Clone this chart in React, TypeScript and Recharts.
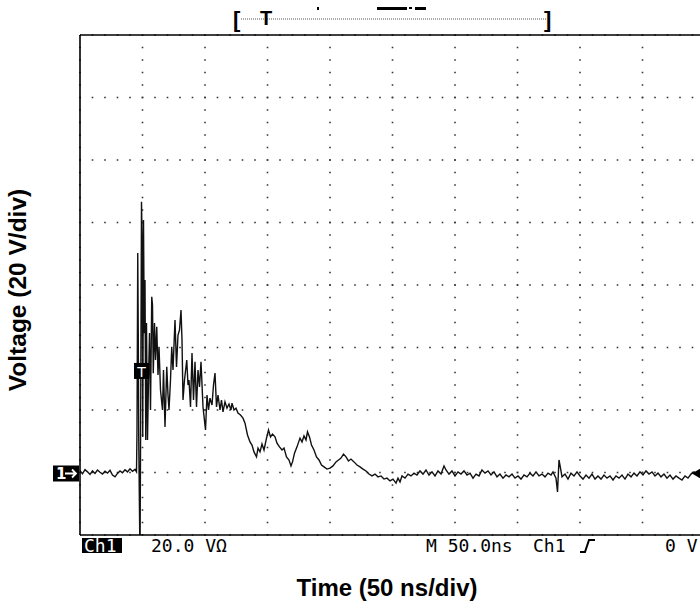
import React from 'react';
import { LineChart, Line, XAxis, YAxis, CartesianGrid, ReferenceDot } from 'recharts';

// Oscilloscope capture: Ch1, 20 V/div, 50 ns/div. Time in ns, voltage in V.
const preTrigger: [number, number][] = [
  [0, 0.6], [2, -0.4], [4, 0.9], [6, 0.2], [8, -0.6], [10, 0.5], [12, -0.3], [14, 0.8],
  [16, 0.1], [18, -0.5], [20, 0.4], [22, -0.2], [24, 0.7], [26, -0.8], [28, -1.4], [30, -0.3],
  [32, 0.5], [34, -0.1], [36, 0.9], [38, 0.2], [40, 1.2], [42, 0.4], [44, 1.0],
];

const burst: [number, number][] = [
  [45.2, 0.2], [45.6, 13.6], [46.2, 70.2], [46.6, 45.6], [47.0, 10.4], [48.0, -28], [48.6, 23.2],
  [49.2, 86.6], [49.8, 71.2], [50.2, 11.4], [50.8, 80.8], [51.4, 44.6], [52.0, 61.6], [52.6, 10.4],
  [53.2, 47.8], [54.0, 10.4], [54.8, 29.6], [55.6, 44.6], [56.4, 20.0], [57.4, 56.2], [58.0, 53.6],
  [58.6, 31.8], [59.6, 47.8], [60.4, 36.0], [61.4, 46.6], [62.4, 31.2], [63.2, 40.2], [64.4, 26.4],
  [66.0, 20.0], [66.8, 32.8], [68.0, 14.6], [69.4, 33.8], [70.4, 24.8], [71.2, 20.0], [72.4, 29.6],
  [73.4, 40.2], [74.4, 32.8], [76.0, 48.8], [77.2, 33.8], [78.4, 44.0], [79.6, 45.6], [80.8, 52.0],
  [81.6, 42.4], [82.4, 23.2], [83.6, 29.6], [85.4, 36.0], [86.4, 28.0], [87.2, 29.6], [88.4, 21.0],
  [89.6, 38.2], [90.8, 23.2], [92.0, 35.4], [93.2, 21.0], [94.4, 32.8], [95.6, 27.4], [96.8, 35.4],
  [98.4, 21.0], [100.4, 13.6], [101.6, 24.8], [102.8, 20.0], [104.0, 23.8], [105.6, 21.6],
  [106.8, 28.0], [108.0, 31.8], [109.2, 21.0], [110.4, 24.8], [112.0, 20.0], [113.2, 23.2],
  [114.4, 19.4], [116.0, 22.6], [117.6, 20.6], [119.2, 21.9], [120.8, 20.0], [121.6, 22.2],
  [123.2, 20.0], [124.8, 20.6], [126.4, 19.0], [128.4, 18.4], [130.4, 17.4], [132.0, 15.8],
];

const ringdown: [number, number][] = [
  [134.0, 12.0], [136.0, 9.8], [137.6, 8.8], [139.2, 6.6], [141.2, 5.0], [142.4, 7.8], [144.0, 6.6],
  [145.6, 9.1], [147.2, 7.2], [149.2, 11.0], [150.8, 13.6], [152.4, 11.4], [154.0, 12.3],
  [156.0, 11.4], [157.6, 9.4], [159.6, 8.2], [161.6, 7.2], [163.2, 7.8], [165.2, 5.0], [167.2, 4.0],
  [168.8, 2.1], [170.0, 3.4], [171.6, 6.2], [173.6, 8.2], [176.0, 11.0], [177.6, 9.8], [179.2, 11.7],
  [180.8, 10.4], [182.0, 13.0], [183.6, 11.4], [185.2, 8.8], [187.2, 7.2], [189.2, 5.0],
  [191.2, 4.0], [193.2, 2.4], [195.2, 1.8], [197.6, 1.1], [200.0, 1.4], [202.4, 2.1], [204.8, 3.4],
  [206.8, 4.0], [208.8, 4.6], [210.8, 5.9], [212.8, 5.0], [214.8, 3.7], [216.8, 4.3], [219.2, 3.4],
  [221.6, 2.4], [224.0, 1.8], [226.4, 1.1], [228.8, 0.5],
];

const tail: [number, number][] = [
  [231.2, -0.5], [233.6, -1.1], [236.0, -0.5], [238.4, -1.4], [240.8, -1.1], [243.2, -2.1],
  [245.6, -1.8], [248.0, -2.7], [250.4, -2.1], [252.8, -3.4], [254.4, -1.8], [256.0, -3.0],
  [257.6, -1.1], [260.0, -1.8], [262.4, -0.5], [264.8, -1.1], [267.2, -0.2], [269.6, -0.8],
  [272.0, 0.5], [274.4, -0.5], [276.8, 0.8], [279.2, -0.8], [281.6, 0.2], [284.0, -1.1],
  [286.4, 0.5], [288.8, -0.5], [291.2, 2.1], [292.8, 0.8], [295.2, -0.5], [297.6, 0.5],
  [300.0, -1.1], [302.4, 0.2], [304.8, -0.5], [307.2, 0.5], [309.6, -0.8], [312.0, -0.2],
  [314.4, -1.8], [316.8, -0.5], [319.2, -1.1], [321.6, 0.8], [324.0, -0.2], [326.4, 0.5],
  [328.8, -0.8], [331.2, 0.2], [333.6, -1.4], [336.0, -0.5], [338.4, -1.8], [340.8, -0.8],
  [343.2, -1.4], [345.6, -0.5], [348.0, -1.8], [350.4, -1.1], [352.8, -2.1], [355.2, -0.8],
  [357.6, -1.4], [360.0, -0.2], [362.4, -1.1], [364.8, 0.2], [367.2, -1.1], [369.6, -0.5],
  [372.0, -1.4], [374.4, -0.2], [376.8, -0.8], [378.4, 0.2], [380.8, -1.8], [382.0, -6.2],
  [383.2, 4.0], [384.4, 1.4], [385.6, -1.4], [388.0, -0.5], [390.4, -2.1], [392.8, -0.2],
  [395.2, -1.1], [397.6, 0.2], [400.0, -1.1], [402.4, -2.1], [404.8, -0.8], [407.2, -1.8],
  [409.6, -0.5], [412.0, -2.1], [414.4, -1.1], [416.8, -2.1], [419.2, -0.8], [421.6, -1.8],
  [424.0, -1.1], [426.4, -2.4], [428.8, -1.1], [431.2, -1.8], [433.6, -0.8], [436.0, -2.1],
  [438.4, -0.5], [440.8, -1.4], [443.2, -0.2], [445.6, -1.1], [448.0, 0.2], [450.4, -0.8],
  [452.8, 0.5], [455.2, -0.5], [457.6, 0.2], [460.0, -1.1], [462.4, -0.2], [464.8, -1.4],
  [467.2, -0.5], [469.6, -1.8], [472.0, -0.8], [474.4, -2.1], [476.8, -1.1], [479.2, -1.8],
  [481.6, -2.4], [484.0, -1.1], [486.4, -1.8], [488.8, -0.5], [491.2, 0.2], [493.6, -0.5],
  [496.0, -0.2], [500.0, -0.2],
];

const gridTimeTicks = [0, 50, 100, 150, 200, 250, 300, 350, 400, 450, 500];
const gridVoltTicks = [-20, 0, 20, 40, 60, 80, 100, 120, 140];
const minorTimeTicks = Array.from({ length: 51 }, (_, i) => i * 10);
const minorVoltTicks = Array.from({ length: 41 }, (_, i) => -20 + i * 4);

const timeDomain: [number, number] = [0, 500];
const voltDomain: [number, number] = [-20, 140];
const triggerLevel = { t: 49.2, v: 32.5 };

const table = [...preTrigger, ...burst, ...ringdown, ...tail].map(([t, v]) => ({ t, v }));

const borderLine = { stroke: '#000', strokeWidth: 1.6 };
const borderTick = { stroke: '#000', strokeWidth: 1.4 };

const GroundMarker = (props: any) => {
  const { cx, cy } = props;
  return (
    <g>
      <rect x={cx - 27} y={cy - 7} width={26} height={16} fill="#000" />
      <text x={cx - 24} y={cy + 6} fill="#fff" fontSize={15} fontWeight="bold" fontFamily="DejaVu Sans">1</text>
      <path d={`M${cx - 15} ${cy + 1} L${cx - 4} ${cy + 1} M${cx - 8} ${cy - 3} L${cx - 4} ${cy + 1} L${cx - 8} ${cy + 5}`} stroke="#fff" strokeWidth={1.8} fill="none" />
    </g>
  );
};

const TriggerMarker = (props: any) => {
  const { cx, cy } = props;
  return (
    <g>
      <rect x={cx - 7.5} y={cy - 8} width={15} height={16} fill="#000" />
      <text x={cx} y={cy + 6} fill="#fff" fontSize={14} textAnchor="middle" fontFamily="DejaVu Sans">T</text>
    </g>
  );
};

const RightMarker = (props: any) => {
  const { cx, cy } = props;
  return <polygon points={`${cx - 13},${cy + 1} ${cx - 1},${cy - 6} ${cx - 1},${cy + 8}`} fill="#000" />;
};

const mono = 'DejaVu Sans Mono, Liberation Mono, monospace';
const sans = 'Liberation Sans, Arial, Helvetica, sans-serif';

export default function App() {
  return (
    <div style={{ position: 'absolute', left: 0, top: 0, width: 700, height: 601, overflow: 'hidden', background: '#fff' }}>
      <LineChart width={705} height={601} data={table} margin={{ top: 35, right: 0, bottom: 66, left: 80 }}>
        <XAxis xAxisId="g" dataKey="t" type="number" domain={timeDomain} ticks={gridTimeTicks} hide allowDataOverflow />
        <YAxis yAxisId="g" type="number" domain={voltDomain} ticks={gridVoltTicks} hide allowDataOverflow />
        <CartesianGrid xAxisId="g" yAxisId="g" stroke="#333" strokeWidth={1.6} strokeDasharray="1.6 10.9" strokeDashoffset={0.8} />
        <XAxis xAxisId="b" dataKey="t" type="number" orientation="bottom" mirror domain={timeDomain} ticks={minorTimeTicks} interval={0} tick={false} tickSize={3} axisLine={borderLine} tickLine={borderTick} allowDataOverflow />
        <XAxis xAxisId="t" dataKey="t" type="number" orientation="top" mirror domain={timeDomain} ticks={minorTimeTicks} interval={0} tick={false} tickSize={3} axisLine={borderLine} tickLine={borderTick} allowDataOverflow />
        <YAxis yAxisId="l" type="number" orientation="left" mirror domain={voltDomain} ticks={minorVoltTicks} interval={0} tick={false} tickSize={3} axisLine={borderLine} tickLine={borderTick} allowDataOverflow />
        <Line xAxisId="g" yAxisId="g" dataKey="v" type="linear" stroke="#111" strokeWidth={1.4} dot={false} isAnimationActive={false} />
        <ReferenceDot xAxisId="g" yAxisId="g" x={0} y={0} ifOverflow="visible" shape={GroundMarker} />
        <ReferenceDot xAxisId="g" yAxisId="g" x={triggerLevel.t} y={triggerLevel.v} ifOverflow="visible" shape={TriggerMarker} />
        <ReferenceDot xAxisId="g" yAxisId="g" x={500} y={0} ifOverflow="visible" shape={RightMarker} />
      </LineChart>
      <svg width={700} height={601} style={{ position: 'absolute', left: 0, top: 0, pointerEvents: 'none' }}>
        {/* record / trigger position bar */}
        <text x={233} y={27} fontSize={22} fontWeight="bold" fontFamily={sans}>[</text>
        <line x1={241} y1={19} x2={546} y2={19} stroke="#555" strokeWidth={1} strokeDasharray="1 1" />
        <text x={266} y={25} fontSize={20} fontWeight="bold" textAnchor="middle" fontFamily={sans}>T</text>
        <text x={544} y={27} fontSize={22} fontWeight="bold" fontFamily={sans}>]</text>
        <rect x={317} y={7} width={2} height={3} fill="#000" />
        <rect x={377} y={7} width={30} height={3} fill="#000" />
        <rect x={409} y={7} width={3} height={2} fill="#000" />
        <rect x={415} y={7} width={11} height={3} fill="#000" />
        {/* status line */}
        <rect x={82} y={538} width={40} height={15} fill="#000" />
        <text x={84} y={552} fill="#fff" fontSize={18} fontFamily={mono}>Ch1</text>
        <text x={151} y={552} fontSize={18} fontFamily={mono}>20.0 VΩ</text>
        <text x={426} y={552} fontSize={18} fontFamily={mono}>M 50.0ns</text>
        <text x={533} y={552} fontSize={18} fontFamily={mono}>Ch1</text>
        <path d="M580 552 L585 552 L589 540 L595 540" stroke="#000" strokeWidth={2} fill="none" />
        <text x={665} y={552} fontSize={18} fontFamily={mono}>0 V</text>
        {/* axis titles */}
        <text x={387} y={596} fontSize={24} fontWeight="bold" textAnchor="middle" fontFamily={sans}>Time (50 ns/div)</text>
        <text transform="translate(26,290) rotate(-90)" x={0} y={0} fontSize={24.5} fontWeight="bold" textAnchor="middle" fontFamily={sans}>Voltage (20 V/div)</text>
      </svg>
    </div>
  );
}
